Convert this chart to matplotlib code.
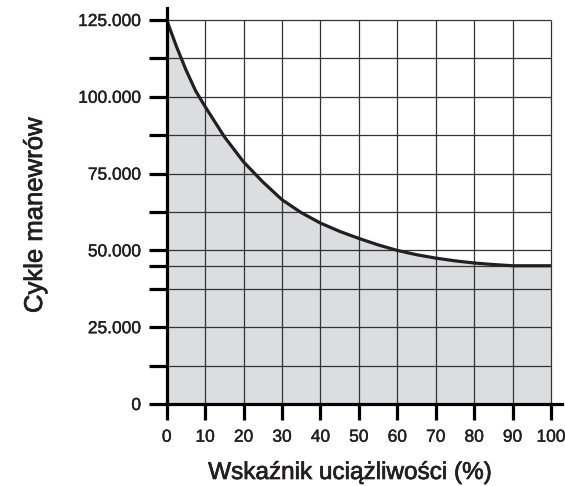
import matplotlib.pyplot as plt
import matplotlib.patheffects as pe

# duty factor (%) and maneuver cycles
duty = [0, 2.5, 5, 7.5, 10, 15, 20, 25, 30, 35, 40, 45, 50, 55, 60, 65, 70, 75, 80, 85, 90, 95, 100]
cycles = [125000, 116500, 108800, 102000, 96800, 87000, 78800, 72300, 66500, 62300, 58900, 56200,
          53900, 51800, 50000, 48600, 47500, 46600, 45900, 45400, 45000, 45000, 45000]

x_ticks = [0, 10, 20, 30, 40, 50, 60, 70, 80, 90, 100]
y_ticks = [0, 12500, 25000, 37500, 45000, 50000, 62500, 75000, 87500, 100000, 112500, 125000]
y_labels = {0: "0", 25000: "25.000", 50000: "50.000", 75000: "75.000",
            100000: "100.000", 125000: "125.000"}

txt = "#231f20"
plt.rcParams["font.family"] = ["Liberation Sans", "DejaVu Sans"]

W, H = 565, 486
fig = plt.figure(figsize=(W / 100, H / 100), dpi=100)
x0, x1 = 166.7, 562
y0, y1 = 404, 8
ax = fig.add_axes([x0 / W, 1 - y0 / H, (x1 - x0) / W, (y0 - y1) / H])

xmax = 100 * (x1 - x0) / (551 - x0)
ymax = 125000 * (y0 - y1) / (y0 - 20)
ax.set_xlim(0, xmax)
ax.set_ylim(0, ymax)

ax.fill_between(duty, cycles, 0, color="#dcdde0", lw=0, zorder=1)

# grid limited to the 0-100 x 0-125000 box
grid_c = "#333333"
ax.vlines(x_ticks[1:], 0, 125000, color=grid_c, lw=0.9, zorder=2)
ax.hlines(y_ticks[1:], 0, 100, color=grid_c, lw=0.9, zorder=2)

ax.plot(duty, cycles, color=txt, lw=2.3, solid_capstyle="butt", solid_joinstyle="round", zorder=3)

for s in ["top", "right"]:
    ax.spines[s].set_visible(False)
for s in ["left", "bottom"]:
    ax.spines[s].set_linewidth(2.3)
    ax.spines[s].set_color("black")
    ax.spines[s].set_zorder(4)

ax.set_xticks(x_ticks)
ax.set_xticklabels([str(v) for v in x_ticks])
ax.set_yticks(y_ticks)
ax.set_yticklabels([y_labels.get(v, "") for v in y_ticks])
ax.tick_params(axis="y", length=13, width=2.3, pad=5.5, labelsize=12.5, colors="black", labelcolor=txt)
ax.tick_params(axis="x", length=11.5, width=2.3, pad=7, labelsize=12.5, colors="black", labelcolor=txt)

thin = [pe.withStroke(linewidth=0.3, foreground=txt)]
for lab in ax.get_xticklabels() + ax.get_yticklabels():
    lab.set_path_effects(thin)

halo = [pe.withStroke(linewidth=0.5, foreground=txt)]
fig.text(349.5 / W, 1 - 473 / H, "Wskaźnik uciążliwości (%)", ha="center", va="center",
         fontsize=17.5, color=txt, path_effects=halo)
fig.text(35 / W, 1 - 215 / H, "Cykle manewrów", ha="center", va="center", rotation=90,
         fontsize=18.5, color=txt, path_effects=halo)

fig.savefig("out.png", dpi=100)
